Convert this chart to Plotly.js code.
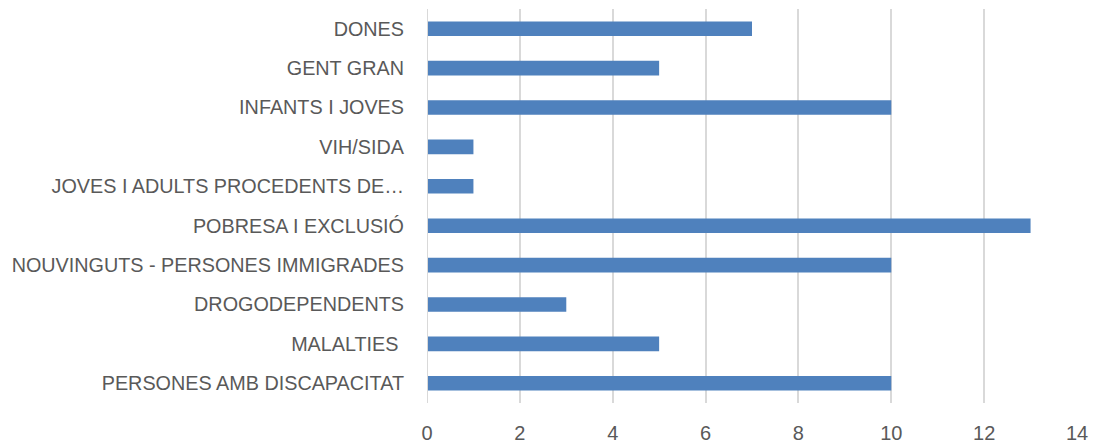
<!DOCTYPE html>
<html>
<head>
<meta charset="utf-8">
<script src="https://cdn.plot.ly/plotly-3.0.1.min.js"></script>
<style>html,body{margin:0;padding:0;background:#fff;}#chart{width:1093px;height:446px;}</style>
</head>
<body>
<div id="chart"></div>
<script>
const categories = [
  "PERSONES AMB DISCAPACITAT",
  "MALALTIES\u00a0",
  "DROGODEPENDENTS",
  "NOUVINGUTS - PERSONES IMMIGRADES",
  "POBRESA I EXCLUSIÓ",
  "JOVES I ADULTS PROCEDENTS DE…",
  "VIH/SIDA",
  "INFANTS I JOVES",
  "GENT GRAN",
  "DONES"
];
const values = [10, 5, 3, 10, 13, 1, 1, 10, 5, 7];
const xTicks = [0, 2, 4, 6, 8, 10, 12, 14];

const trace = {
  type: "bar",
  orientation: "h",
  y: categories,
  x: values,
  marker: {color: "#4F81BD"},
  hoverinfo: "x+y"
};

const layout = {
  width: 1093,
  height: 446,
  margin: {l: 427, r: 16, t: 9, b: 43},
  paper_bgcolor: "#ffffff",
  plot_bgcolor: "#ffffff",
  bargap: 0.63,
  showlegend: false,
  font: {family: "Liberation Sans, Arial, sans-serif", color: "#595959", size: 19.8},
  xaxis: {
    range: [0, 14],
    tickvals: xTicks,
    ticktext: xTicks.map(String),
    showgrid: true,
    gridcolor: "#d9d9d9",
    gridwidth: 2,
    zeroline: false,
    showline: false,
    ticks: "",
    ticklabelstandoff: 16,
    tickfont: {size: 20, color: "#595959"}
  },
  yaxis: {
    type: "category",
    categoryorder: "array",
    categoryarray: categories,
    showgrid: false,
    zeroline: false,
    showline: false,
    ticks: "",
    ticklabelstandoff: 22,
    tickfont: {size: 19.8, color: "#595959"}
  },
  shapes: [{
    type: "line", xref: "x", yref: "paper",
    x0: 0, x1: 0, y0: 0, y1: 1,
    line: {color: "#d9d9d9", width: 2}
  }]
};

Plotly.newPlot("chart", [trace], layout, {displayModeBar: false, staticPlot: true});
</script>
</body>
</html>
